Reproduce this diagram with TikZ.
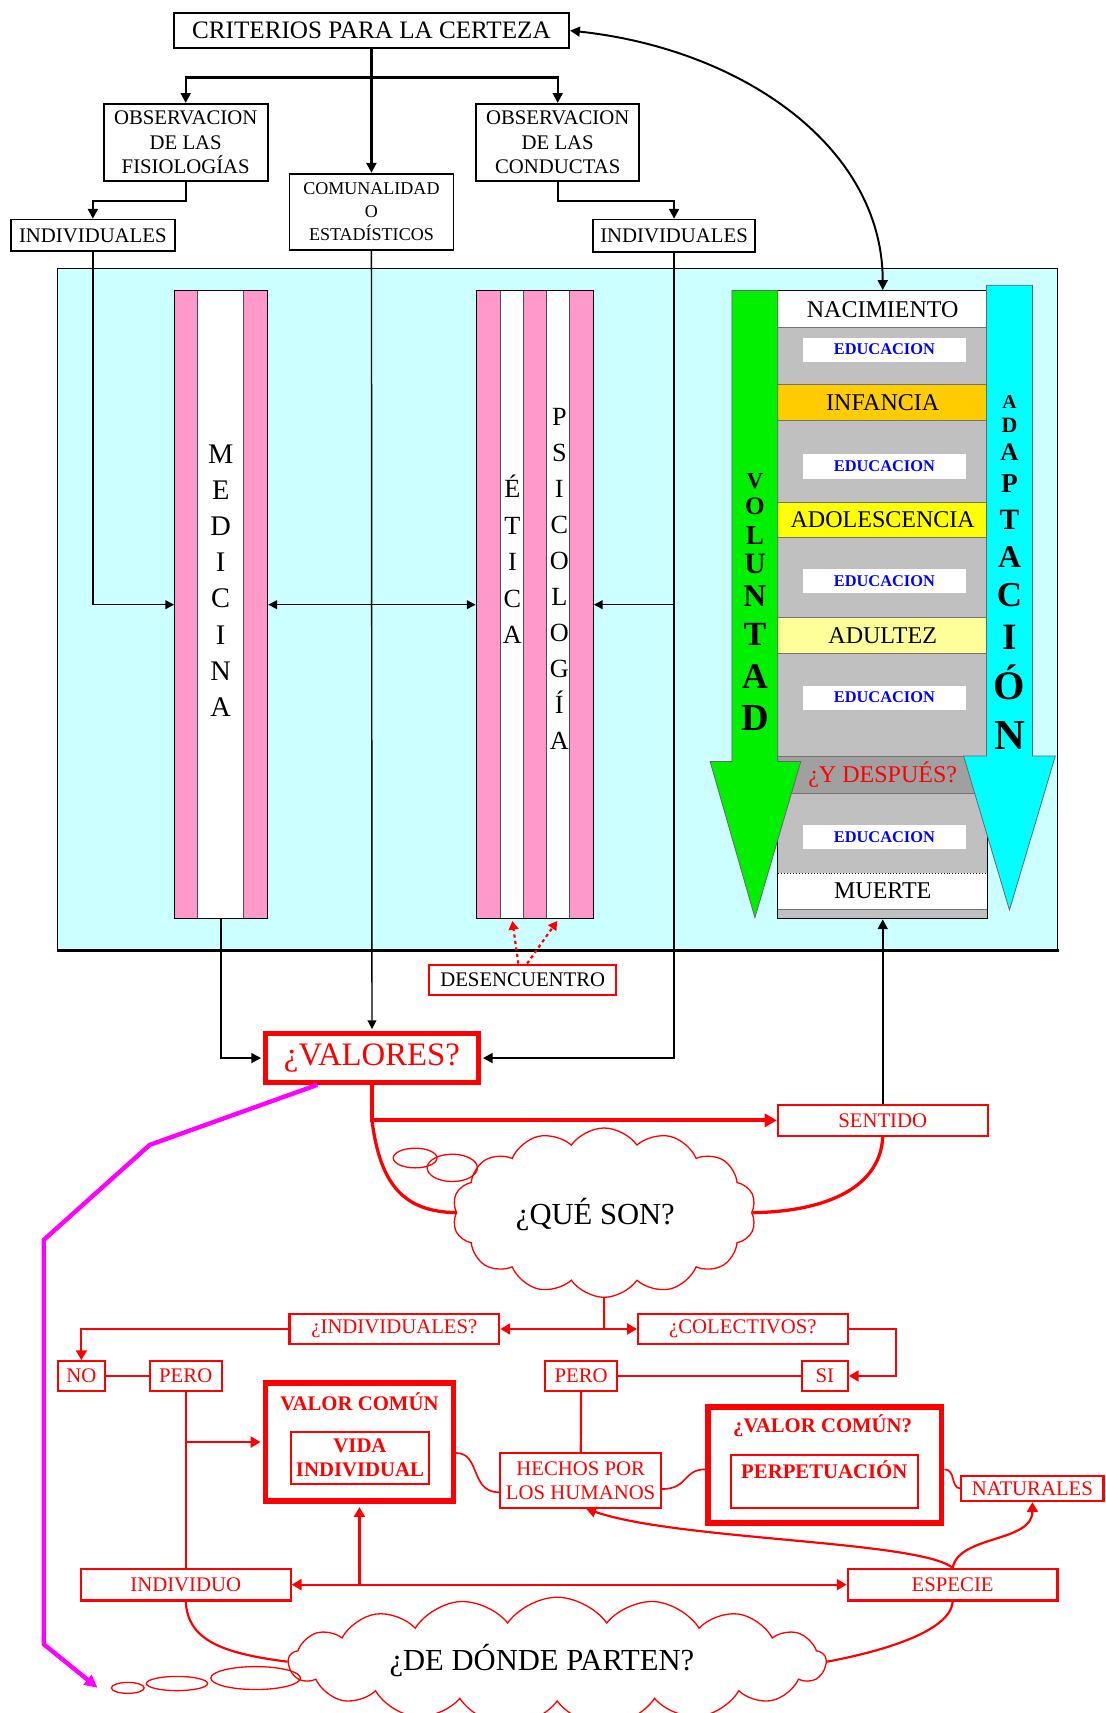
\documentclass[tikz,border=0pt]{standalone}
\usepackage{fontspec}
\setmainfont{Liberation Serif}
\usetikzlibrary{arrows.meta,shapes.symbols,shapes.geometric}
\definecolor{redc}{HTML}{FF0000}
\definecolor{cyanbg}{HTML}{CCFFFF}
\definecolor{pinkc}{HTML}{FF99CC}
\definecolor{greenc}{HTML}{00F000}
\definecolor{cyanc}{HTML}{00FFFF}
\definecolor{grayc}{HTML}{C0C0C0}
\definecolor{dgrayc}{HTML}{A0A0A0}
\definecolor{orangec}{HTML}{FFCC00}
\definecolor{yellowc}{HTML}{FFFF00}
\definecolor{lyellowc}{HTML}{FFFF99}
\definecolor{bluec}{HTML}{0000FF}
\definecolor{magc}{HTML}{FF00FF}
\newcommand\fsz[2]{\fontsize{#1}{#2}\selectfont}
\begin{document}
\begin{tikzpicture}[x=1pt,y=-1pt,
  bx/.style={draw=black,line width=1.6pt,fill=white,inner sep=0pt,align=center,font=\fsz{19}{22.5}},
  rb/.style={draw=redc,line width=2pt,fill=white,inner sep=0pt,align=center,text=redc,font=\fsz{19}{22}},
  blk/.style={draw=black,line width=2pt,-{Triangle[length=9pt,width=9pt]}},
  blkt/.style={draw=black,line width=1.3pt,-{Triangle[length=8pt,width=8pt]}},
  rarr/.style={draw=redc,line width=2pt,-{Triangle[length=9pt,width=10pt]}},
  rln/.style={draw=redc,line width=2pt},
  rwig/.style={draw=redc,line width=1.5pt},
  band/.style={draw=black!55,line width=0.7pt,minimum width=192pt,inner sep=0pt,font=\fsz{22}{22}},
  edu/.style={fill=white,minimum width=149pt,minimum height=22pt,inner sep=0pt,text=bluec,font=\bfseries\fsz{15}{15}},
  colbox/.style={draw=black,line width=1.2pt,minimum width=#1,minimum height=575pt,inner sep=0pt},
  bub/.style={draw=redc,line width=1.2pt,ellipse,inner sep=0pt},
  cld/.style={draw=redc,line width=1.2pt,cloud,inner sep=0pt,fill=white},
  vlet/.style={inner sep=0pt,align=center}
]
\fill[white] (0,0) rectangle (1012,1568);
\useasboundingbox (0,0) rectangle (1012,1568);

% ---------- top boxes
\node[bx,minimum width=362pt,minimum height=32pt,font=\fsz{23}{23}] (crit) at (340,28) {CRITERIOS PARA LA CERTEZA};
\node[bx,minimum width=150pt,minimum height=71pt] (obs1) at (170,130.5) {OBSERVACION\\DE LAS\\FISIOLOGÍAS};
\node[bx,minimum width=149pt,minimum height=71pt] (obs2) at (510.5,130.5) {OBSERVACION\\DE LAS\\CONDUCTAS};
\node[bx,minimum width=150pt,minimum height=70pt,font=\fsz{16.5}{21}] (comu) at (340,194) {COMUNALIDAD\\O\\ESTADÍSTICOS};
\node[bx,minimum width=150pt,minimum height=29pt] (ind1) at (85,215.5) {INDIVIDUALES};
\node[bx,minimum width=148pt,minimum height=30pt] (ind2) at (617,216) {INDIVIDUALES};

\coordinate (j1) at (340,71);
\coordinate (j2) at (170,184);
\coordinate (j3) at (511,184);
\draw[blk] (j1) -| (obs1.north);
\draw[blk] (j1) -| (obs2.north);
\draw[blk] (obs1.south) -- (j2) -| (ind1.north);
\draw[blk] (obs2.south) -- (obs2.south |- j3) -| (ind2.north);

% ---------- panel
\fill[cyanbg] (53,246) rectangle (968,870);
\draw[line width=0.8pt] (53,870) -- (53,246) -- (968,246);
\draw[line width=1.6pt] (968,246) -- (968,870);
\draw[line width=2.2pt] (52,870) -- (969,870);

% Medicina column
\fill[pinkc] (160,266) rectangle (245,841);
\fill[white] (181,266) rectangle (223,841);
\draw[black!70,line width=0.6pt] (181,266) -- (181,841) (223,266) -- (223,841);
\node[colbox=85pt] (med) at (202.5,553.5) {};
\node[vlet,font=\fsz{26}{33}] (medt) at (202,531.5) {M\\E\\D\\I\\C\\I\\N\\A};

% Etica / Psicologia column
\fill[pinkc] (436,266) rectangle (543,841);
\fill[white] (458,266) rectangle (479,841) (500,266) rectangle (521,841);
\draw[black!70,line width=0.6pt] (458,266) -- (458,841) (479,266) -- (479,841) (500,266) -- (500,841) (521,266) -- (521,841);
\node[colbox=107pt] (eti) at (489.5,553.5) {};
\node[vlet,font=\fsz{24}{33.5}] (etit) at (469,512) {É\\T\\I\\C\\A};
\node[vlet,font=\fsz{24}{33}] (psit) at (512,530) {P\\S\\I\\C\\O\\L\\O\\G\\Í\\A};

% Life column
\node[band,fill=white,minimum height=34pt,draw=black,dotted] (nac) at (808,283) {NACIMIENTO};
\node[band,fill=grayc,minimum height=52pt] (g1) at (808,326) {};
\node[edu] (e1) at (809.5,320) {EDUCACION};
\node[band,fill=orangec,minimum height=33pt] (inf) at (808,368.5) {INFANCIA};
\node[band,fill=grayc,minimum height=75pt] (g2) at (808,422.5) {};
\node[edu] (e2) at (809.5,427) {EDUCACION};
\node[band,fill=yellowc,minimum height=32pt] (ado) at (808,476) {ADOLESCENCIA};
\node[band,fill=grayc,minimum height=73pt] (g3) at (808,528.5) {};
\node[edu] (e3) at (809.5,532) {EDUCACION};
\node[band,fill=lyellowc,minimum height=33pt] (adu) at (808,581.5) {ADULTEZ};
\node[band,fill=grayc,minimum height=94pt] (g4) at (808,645) {};
\node[edu] (e4) at (809.5,638.5) {EDUCACION};
\node[band,fill=dgrayc,minimum height=34pt,text=redc] (desp) at (808,709) {¿Y DESPUÉS?};
\node[band,fill=grayc,minimum height=73pt] (g5) at (808,762.5) {};
\node[edu] (e5) at (809.5,766) {EDUCACION};
\node[band,fill=white,minimum height=33pt,draw=black,dotted] (mue) at (808,815.5) {MUERTE};
\node[band,fill=grayc,minimum height=9pt] (g6) at (808,836.5) {};
\node[draw=black,line width=1pt,minimum width=192pt,minimum height=575pt,inner sep=0pt] (life) at (808,553.5) {};

\filldraw[fill=greenc,draw=black!60,line width=0.7pt] (670,266) -- (712,266) -- (712,697) -- (733,697) -- (691,840) -- (650,697) -- (670,697) -- cycle;
\filldraw[fill=cyanc,draw=black!60,line width=0.7pt] (903,261) -- (945,261) -- (945,692) -- (966,692) -- (924,833) -- (882,692) -- (903,692) -- cycle;
\foreach \ch/\yy/\s [count=\i] in {V/440/21,O/463/23,L/490/25,U/516/27,N/546/29,T/581/31,A/619/33,D/657/35}
  \node[inner sep=0pt,font=\bfseries\fsz{\s}{\s}] (vol\i) at (691,\yy) {\ch};
\foreach \ch/\yy/\s [count=\i] in {A/368/18,D/389/20,A/414/23,P/443/25,T/476/27,A/510/29,C/545/32,I/583/34,Ó/625/37,N/673/39}
  \node[inner sep=0pt,font=\bfseries\fsz{\s}{\s}] (ada\i) at (924,\yy) {\ch};

% ---------- valores and panel connectors
\node[draw=redc,line width=4pt,fill=white,minimum width=195pt,minimum height=45pt,inner sep=0pt,text=redc,font=\fsz{30}{30}] (val) at (340.5,968.5) {¿VALORES?};
\draw[blkt] (ind1.south) |- (med.west);
\draw[blkt,{Triangle[length=8pt,width=8pt]}-{Triangle[length=8pt,width=8pt]}] (med.east) -- (eti.west);
\draw[blkt] (ind2.south) |- (eti.east);
\draw[blk] (crit.south) -- (comu.north);
\draw[blkt] (comu.south) -- ([yshift=2pt]val.north);
\draw[blk] (med.south) |- ([xshift=-2pt]val.west);
\draw[blk] (ind2.south) |- ([xshift=2pt]val.east);
\draw[black,line width=1.8pt,{Triangle[length=9pt,width=9pt]}-{Triangle[length=9pt,width=9pt]}] (crit.east) .. controls (680,45) and (808,135) .. (life.north);

% desencuentro
\node[rb,text=black,minimum width=171pt,minimum height=28pt] (des) at (478.5,897) {DESENCUENTRO};
\coordinate (eb) at (469,843);
\coordinate (pb) at (510,843);
\draw[redc,line width=2pt,dash pattern=on 3pt off 3pt,-{Triangle[length=8pt,width=9pt]}] ([xshift=-4pt]des.north) -- (eb);
\draw[redc,line width=2pt,dash pattern=on 3pt off 3pt,-{Triangle[length=8pt,width=9pt]}] ([xshift=4pt]des.north) -- (pb);

% sentido
\node[rb,minimum width=192pt,minimum height=28pt] (sen) at (808,1025.5) {SENTIDO};
\draw[blk] (sen.north) -- (life.south);
\coordinate (vj) at (val.south |- sen.west);

% cloud 1
\node[cld,cloud puffs=14,cloud puff arc=110,minimum width=278pt,minimum height=155pt] (q1) at (553,1110) {};
\node[font=\fsz{28}{28}] (q1t) at (545,1112) {¿QUÉ SON?};
\draw[redc,line width=3.5pt,-{Triangle[length=11pt,width=12pt]}] ([yshift=2pt]val.south) -- (vj) -- (sen.west);
\draw[redc,line width=3pt] (vj) .. controls (348,1085) and (370,1109) .. (q1.west);
\draw[redc,line width=3pt] (sen.south) .. controls (806,1085) and (760,1109) .. (q1.east);
\node[bub,minimum width=40pt,minimum height=18pt] (qb1) at (380,1060) {};
\node[bub,minimum width=46pt,minimum height=25pt] (qb2) at (414,1069) {};

% second level
\node[rb,minimum width=192pt,minimum height=27pt] (indq) at (361,1216.5) {¿INDIVIDUALES?};
\node[rb,minimum width=192pt,minimum height=27pt] (colq) at (680,1216.5) {¿COLECTIVOS?};
\node[rb,minimum width=43pt,minimum height=27pt] (no) at (74.5,1259.5) {NO};
\node[rb,minimum width=66pt,minimum height=27pt] (pero1) at (170,1259.5) {PERO};
\node[rb,minimum width=42pt,minimum height=27pt] (si) at (755,1259.5) {SI};
\node[rb,minimum width=66pt,minimum height=27pt] (pero2) at (532,1259.5) {PERO};
\node[rb,minimum width=147pt,minimum height=50pt] (hech) at (531.5,1355) {HECHOS POR\\LOS HUMANOS};
\node[draw=redc,line width=5pt,fill=white,minimum width=172pt,minimum height=108pt,inner sep=0pt] (vc) at (329,1320) {};
\node[text=redc,font=\bfseries\fsz{19}{19}] (vct) at (329,1283) {VALOR COMÚN};
\node[rb,minimum width=127pt,minimum height=47pt,font=\bfseries\fsz{19}{22}] (vi) at (329.5,1334.5) {VIDA\\INDIVIDUAL};
\node[draw=redc,line width=5pt,fill=white,minimum width=214pt,minimum height=106pt,inner sep=0pt] (vc2) at (755,1341) {};
\node[text=redc,font=\bfseries\fsz{19}{19}] (vc2t) at (753,1305) {¿VALOR COMÚN?};
\node[rb,minimum width=171pt,minimum height=48pt] (pp) at (754.5,1356) {};
\node[text=redc,font=\bfseries\fsz{19}{19}] (ppt) at (754.5,1345) {PERPETUACIÓN};
\node[rb,minimum width=130pt,minimum height=23pt] (nat) at (945,1362.5) {NATURALES};
\node[rb,minimum width=192pt,minimum height=29pt] (indv) at (170,1450.5) {INDIVIDUO};
\node[rb,minimum width=192pt,minimum height=29pt] (esp) at (872,1450.5) {ESPECIE};

\coordinate (cj) at (553,1216.5);
\draw[rln] (q1.south) -- (cj);
\draw[rarr] (cj) -- (indq.east);
\draw[rarr] (cj) -- (colq.west);
\draw[rarr] (indq.west) -| (no.north);
\draw[rln] (no) -- (pero1);
\draw[rarr] (colq.east) -- ++(43,0) |- (si.east);
\draw[rln] (si) -- (pero2);
\draw[rln] (pero2) -- (hech);
\draw[rln] (pero1) -- (indv);
\draw[rarr] (pero1.south |- vc.west) -- ([xshift=-2pt]vc.west);
\draw[rarr,{Triangle[length=9pt,width=10pt]}-{Triangle[length=9pt,width=10pt]}] (indv.east) -- (esp.west);
\draw[rarr] (vc.south |- indv.east) -- ([yshift=-3pt]vc.south);
\draw[rwig] ([yshift=-10pt]vc.east) .. controls (440,1330) and (430,1366) .. ([yshift=-11pt]hech.west);
\draw[rwig] ([yshift=-8pt]hech.east) .. controls (630,1363) and (625,1345) .. ([yshift=-4pt]vc2.west);
\draw[rwig] ([yshift=-4pt]vc2.east) .. controls (875,1345) and (870,1362) .. (nat.west);
\draw[rarr] (esp.north) .. controls (840,1410) and (620,1410) .. ([xshift=5pt]hech.south);
\draw[rarr] (esp.north) .. controls (878,1405) and (945,1412) .. (nat.south);

% cloud 2
\node[cld,cloud puffs=17,cloud puff arc=110,minimum width=492pt,minimum height=118pt] (q2) at (510,1521) {};
\node[font=\fsz{28}{28}] (q2t) at (496,1520) {¿DE DÓNDE PARTEN?};
\draw[redc,line width=2pt] (indv.south) .. controls (172,1500) and (200,1513) .. (q2.west);
\draw[redc,line width=2pt] (esp.south) .. controls (870,1495) and (800,1513) .. (q2.east);
\node[bub,minimum width=30pt,minimum height=10pt] (b1) at (117,1545) {};
\node[bub,minimum width=56pt,minimum height=13pt] (b2) at (162,1541) {};
\node[bub,minimum width=82pt,minimum height=21pt] (b3) at (234,1536) {};

% magenta
\draw[magc,line width=4pt,-{Triangle[length=12pt,width=11pt]}] ([xshift=-50pt]val.south) -- (137,1048) -- (40,1135) -- (40,1505) -- ([xshift=-12pt]b1.west);
\end{tikzpicture}
\end{document}
